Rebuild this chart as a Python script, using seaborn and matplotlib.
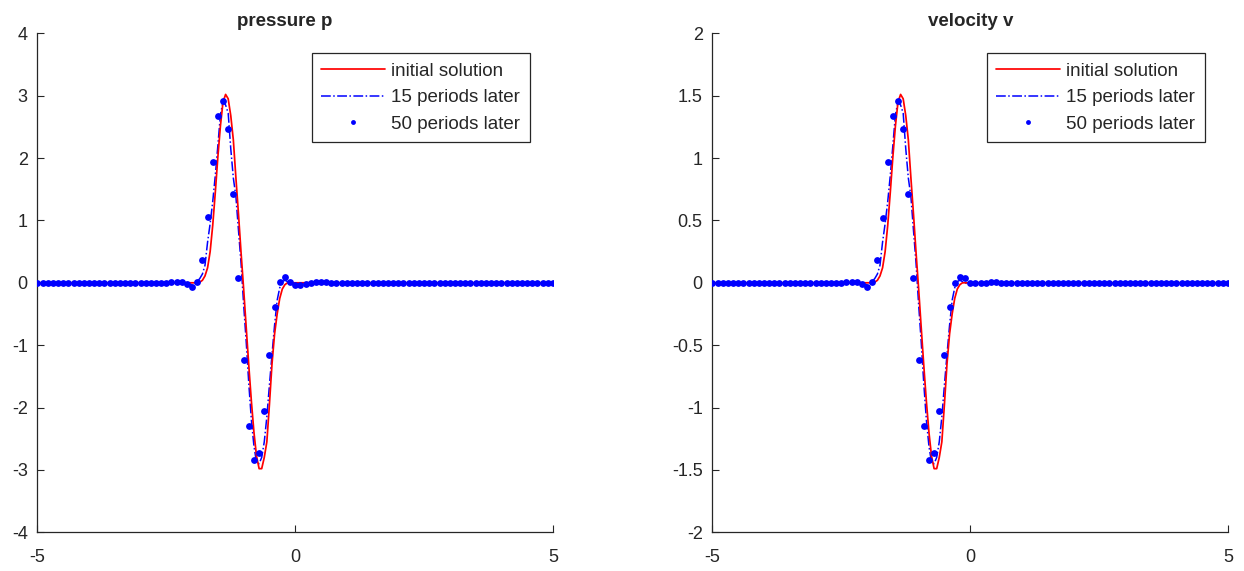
import numpy as np
import pandas as pd
import matplotlib
matplotlib.use("Agg")
import matplotlib.pyplot as plt
from matplotlib.lines import Line2D
import seaborn as sns

# ---------------- data ----------------
# sample points of the initial solution
x_init = [-5.0, -1.90, -1.85, -1.80, -1.75, -1.70, -1.65, -1.60, -1.55, -1.50, -1.45,
          -1.40, -1.35, -1.30, -1.25, -1.20, -1.15, -1.10, -1.05, -1.00, -0.95,
          -0.90, -0.85, -0.80, -0.75, -0.70, -0.65, -0.60, -0.55, -0.50, -0.45,
          -0.40, -0.35, -0.30, -0.25, -0.20, -0.15, 5.0]
p_init = [0.0, 0.0, 0.01, 0.04, 0.11, 0.24, 0.50, 0.92, 1.45, 2.02, 2.52,
          2.90, 3.02, 2.95, 2.68, 2.29, 1.68, 1.10, 0.48, -0.10, -0.72,
          -1.33, -1.90, -2.40, -2.78, -2.98, -2.98, -2.80, -2.55, -1.95, -1.30,
          -0.82, -0.50, -0.25, -0.10, -0.03, 0.0, 0.0]
v_init = [0.0, 0.0, 0.005, 0.02, 0.055, 0.12, 0.25, 0.46, 0.725, 1.01, 1.26,
          1.45, 1.51, 1.475, 1.34, 1.145, 0.84, 0.55, 0.24, -0.05, -0.36,
          -0.665, -0.95, -1.20, -1.39, -1.49, -1.49, -1.40, -1.275, -0.975, -0.65,
          -0.41, -0.25, -0.125, -0.05, -0.015, 0.0, 0.0]

# 15 periods later (dash-dot)
x_15 = [-5.0, -2.30, -2.20, -2.10, -2.05, -2.00, -1.95, -1.90, -1.85, -1.80, -1.75,
        -1.70, -1.65, -1.60, -1.55, -1.50, -1.45, -1.40, -1.35, -1.30, -1.25,
        -1.20, -1.15, -1.10, -1.05, -1.00, -0.95, -0.90, -0.85, -0.80, -0.75,
        -0.70, -0.65, -0.60, -0.55, -0.50, -0.45, -0.40, -0.35, -0.30, -0.25,
        -0.20, -0.15, -0.10, -0.05, 0.00, 0.10, 0.20, 5.0]
p_15 = [0.0, 0.0, 0.01, 0.0, -0.02, -0.03, -0.01, 0.02, 0.07, 0.14, 0.28,
        0.65, 0.95, 1.30, 1.72, 2.20, 2.70, 2.90, 2.85, 2.72, 2.15,
        1.68, 1.38, 0.84, 0.31, -0.35, -0.95, -1.62, -2.20, -2.62, -2.88,
        -2.90, -2.80, -2.55, -2.15, -1.64, -1.15, -0.68, -0.28, -0.08, 0.02,
        0.04, 0.02, 0.0, -0.02, -0.02, -0.01, 0.0, 0.0]
v_15 = [0.0, 0.0, 0.005, 0.0, -0.01, -0.015, -0.005, 0.01, 0.035, 0.07, 0.14,
        0.325, 0.475, 0.65, 0.86, 1.10, 1.35, 1.45, 1.425, 1.36, 1.075,
        0.84, 0.69, 0.42, 0.155, -0.175, -0.475, -0.81, -1.10, -1.31, -1.44,
        -1.45, -1.40, -1.275, -1.075, -0.82, -0.575, -0.34, -0.14, -0.04, 0.01,
        0.02, 0.01, 0.0, -0.01, -0.01, -0.005, 0.0, 0.0]

# 50 periods later (dots, one every 0.1 from -5 to 5)
x_50 = [round(-5.0 + 0.1 * i, 1) for i in range(101)]
p_50_nonzero = {-2.4: 0.01, -2.3: 0.02, -2.2: 0.02, -2.1: -0.02, -2.0: -0.07,
                -1.9: 0.01, -1.8: 0.36, -1.7: 1.05, -1.6: 1.94, -1.5: 2.68,
                -1.4: 2.91, -1.3: 2.46, -1.2: 1.42, -1.1: 0.08, -1.0: -1.24,
                -0.9: -2.30, -0.8: -2.84, -0.7: -2.73, -0.6: -2.06, -0.5: -1.16,
                -0.4: -0.39, -0.3: 0.01, -0.2: 0.085, -0.1: 0.01, 0.0: -0.04,
                0.1: -0.04, 0.2: -0.02, 0.3: 0.0, 0.4: 0.01, 0.5: 0.01, 0.6: 0.01}
v_50_nonzero = {-2.4: 0.005, -2.3: 0.01, -2.2: 0.01, -2.1: -0.01, -2.0: -0.03,
                -1.9: 0.005, -1.8: 0.18, -1.7: 0.52, -1.6: 0.97, -1.5: 1.34,
                -1.4: 1.455, -1.3: 1.23, -1.2: 0.71, -1.1: 0.04, -1.0: -0.62,
                -0.9: -1.15, -0.8: -1.42, -0.7: -1.365, -0.6: -1.03, -0.5: -0.58,
                -0.4: -0.195, -0.3: 0.0, -0.2: 0.043, -0.1: 0.037, 0.0: 0.0,
                0.1: 0.0, 0.2: 0.0, 0.3: 0.0, 0.4: 0.005, 0.5: 0.005}
p_50 = [p_50_nonzero.get(x, 0.0) for x in x_50]
v_50 = [v_50_nonzero.get(x, 0.0) for x in x_50]

titles = ["pressure p", "velocity v"]
legend_labels = ["initial solution", "15 periods later", "50 periods later"]
yticks_p = [-4, -3, -2, -1, 0, 1, 2, 3, 4]
yticks_v = [-2, -1.5, -1, -0.5, 0, 0.5, 1, 1.5, 2]
yticklabels_v = ["-2", "-1.5", "-1", "-0.5", "0", "0.5", "1", "1.5", "2"]
xticks = [-5, 0, 5]

# ---------------- style ----------------
sns.set_style("ticks")
plt.rcParams['font.family'] = ['Liberation Sans', 'DejaVu Sans']
plt.rcParams['xtick.direction'] = 'in'
plt.rcParams['ytick.direction'] = 'in'

fig = plt.figure(figsize=(12.44, 5.71), dpi=100)
axes = [fig.add_axes([0.0301, 0.0678, 0.4144, 0.8739]),
        fig.add_axes([0.5727, 0.0678, 0.4144, 0.8739])]

panels = [
    (x_init, p_init, x_15, p_15, p_50, (-4, 4), yticks_p, [str(t) for t in yticks_p], 0.479),
    (x_init, v_init, x_15, v_15, v_50, (-2, 2), yticks_v, yticklabels_v, 0.5),
]

axis_col = "#262626"
for ax, title, (xi, yi, x15, y15, y50, ylim, yt, ytl, tx) in zip(axes, titles, panels):
    sns.lineplot(x=xi, y=yi, ax=ax, color="red", lw=1.25, sort=False, zorder=3)
    sns.lineplot(x=x15, y=y15, ax=ax, color="blue", lw=1.1, linestyle="-.",
                 sort=False, zorder=2)
    sns.scatterplot(x=x_50, y=y50, ax=ax, color="blue", s=24, linewidth=0,
                    zorder=4)
    ax.set_xlim(-5, 5)
    ax.set_ylim(*ylim)
    ax.set_xticks(xticks)
    ax.set_xticklabels([str(t) for t in xticks])
    ax.set_yticks(yt)
    ax.set_yticklabels(ytl)
    ax.tick_params(labelsize=13, length=5, width=0.8, colors=axis_col,
                   labelcolor="#262626")
    ax.tick_params(axis="x", pad=12)
    ax.tick_params(axis="y", pad=7)
    for side in ["top", "right"]:
        ax.spines[side].set_visible(False)
    for side in ["left", "bottom"]:
        ax.spines[side].set_color(axis_col)
        ax.spines[side].set_linewidth(0.9)
    ax.set_title(title, fontsize=13.5, fontweight="bold", pad=5, x=tx)
    ax.set_xlabel("")
    ax.set_ylabel("")

    handles = [
        Line2D([], [], color="red", lw=1.25),
        Line2D([], [], color="blue", lw=1.1, linestyle="-."),
        Line2D([], [], color="blue", lw=0, marker="o", markersize=3.5,
               markeredgewidth=0),
    ]
    leg = ax.legend(handles, legend_labels, loc="upper right",
                    bbox_to_anchor=(0.955, 0.96), fontsize=13.5,
                    frameon=True, fancybox=False, handlelength=3.4,
                    handletextpad=0.35, borderpad=0.5, labelspacing=0.5,
                    borderaxespad=0.0)
    leg.get_frame().set_edgecolor(axis_col)
    leg.get_frame().set_linewidth(0.9)
    leg.get_frame().set_alpha(1)

fig.savefig("out.png", dpi=100)
